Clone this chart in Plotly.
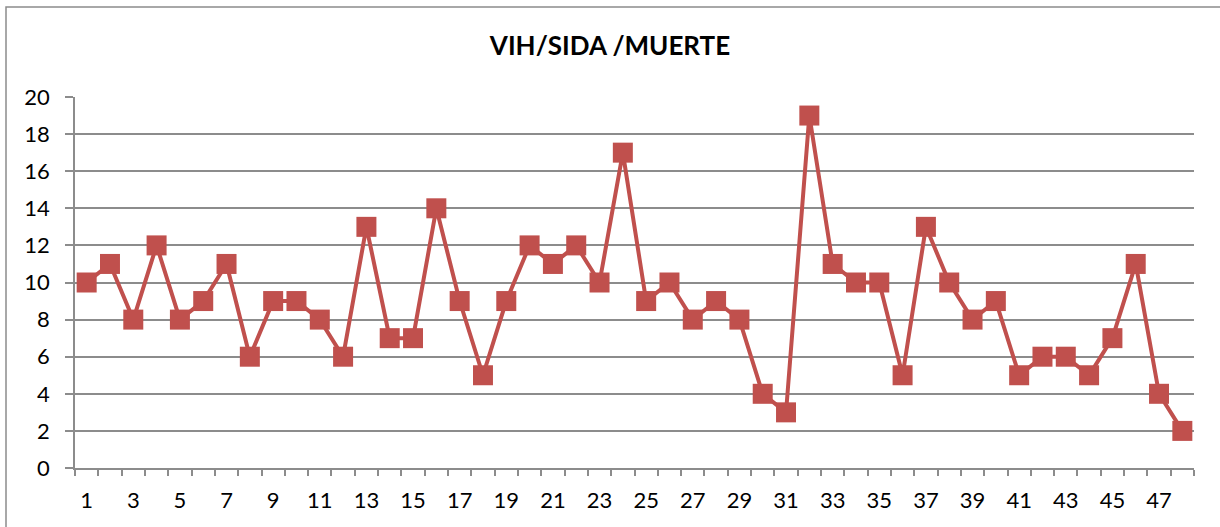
import plotly.graph_objects as go

categories = list(range(1, 49))
values = [10, 11, 8, 12, 8, 9, 11, 6, 9, 9, 8, 6, 13, 7, 7, 14, 9, 5, 9, 12,
          11, 12, 10, 17, 9, 10, 8, 9, 8, 4, 3, 19, 11, 10, 10, 5, 13, 10, 8, 9,
          5, 6, 6, 5, 7, 11, 4, 2]
x_tick_vals = [c for c in categories if c % 2 == 1]
x_tick_text = [str(c) for c in x_tick_vals]
title = "VIH/SIDA /MUERTE"

red = "#C0504D"
grid = "#8C8C8C"
font = "Lato, Calibri, sans-serif"

fig = go.Figure()
fig.add_trace(go.Scatter(
    x=categories, y=values, mode="lines+markers",
    line=dict(color=red, width=4),
    marker=dict(symbol="square", size=20, color=red),
    cliponaxis=False, showlegend=False,
))

fig.update_layout(
    width=1220, height=527,
    margin=dict(l=75, r=26, t=97, b=59),
    paper_bgcolor="white", plot_bgcolor="white",
    title=dict(text="<b>" + title + "</b>", x=0.5, xanchor="center",
               y=1 - 46 / 527, yanchor="middle",
               font=dict(family=font, size=26, color="black")),
    font=dict(family=font, size=22, color="black"),
    xaxis=dict(
        range=[0.5, 48.5], tickmode="array", tickvals=x_tick_vals,
        ticktext=x_tick_text, ticks="", showgrid=False, zeroline=False,
        showline=True, linecolor=grid, linewidth=1.5,
        tickfont=dict(family=font, size=22),
        ticklabelstandoff=12,
        minor=dict(tickmode="array", tickvals=[c - 0.5 for c in categories] + [48.5],
                   ticks="outside", ticklen=6, tickcolor=grid, tickwidth=1.5,
                   showgrid=False),
        fixedrange=True,
    ),
    yaxis=dict(
        range=[0, 20], dtick=2, tick0=0, ticks="outside", ticklen=8,
        tickcolor=grid, tickwidth=1.5, showgrid=True, gridcolor=grid,
        gridwidth=1.5, zeroline=False, showline=True, linecolor=grid,
        linewidth=1.5, tickfont=dict(family=font, size=22),
        ticklabelstandoff=11,
    ),
    shapes=[dict(type="rect", xref="paper", yref="paper",
                 x0=(6 - 75) / 1119, x1=1.2, y0=-0.5, y1=1 + (97 - 7) / 371,
                 line=dict(color=grid, width=1.5), layer="below")],
)

fig.write_html("out.html", config={"displayModeBar": False},
               post_script="document.body.style.margin='0';document.body.style.overflow='hidden';")
